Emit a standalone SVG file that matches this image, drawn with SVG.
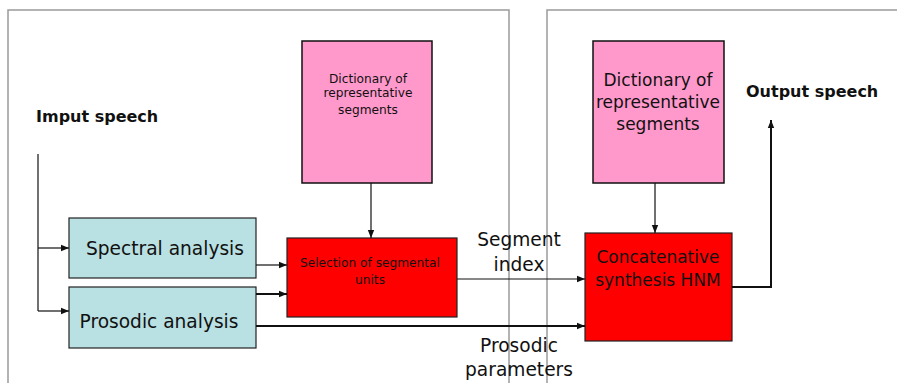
<svg xmlns="http://www.w3.org/2000/svg" width="897" height="383" viewBox="0 0 897 383">
  <style>
    .panel { fill: none; stroke: #9a9a9a; stroke-width: 1.5; }
    .cyan { fill: #b9e0e2; stroke: #222; stroke-width: 1.2; }
    .red { fill: #ff0000; stroke: #222; stroke-width: 1.2; }
    .pink { fill: #ff99cc; stroke: #111; stroke-width: 1.5; }
    text { font-family: "DejaVu Sans", Verdana, sans-serif; fill: #111; }
    .lbl { font-size: 17px; }
    .big { font-size: 18.6px; }
    .small { font-size: 12.2px; }
    .title { font-size: 16px; font-weight: bold; }
    .wire { fill: none; stroke: #111; stroke-width: 1.2; }
    .wire2 { fill: none; stroke: #111; stroke-width: 2; }
  </style>
  <defs>
    <marker id="arr" viewBox="0 0 10 10" refX="10" refY="5" markerWidth="8" markerHeight="8" markerUnits="userSpaceOnUse" orient="auto">
      <path d="M0,1 L10,5 L0,9 z" fill="#111"/>
    </marker>
  </defs>

  <rect width="897" height="383" fill="#fff"/>

  <!-- panels -->
  <g id="panels">
    <rect class="panel" x="8" y="10" width="501" height="390"/>
    <rect class="panel" x="547" y="10" width="370" height="390"/>
  </g>

  <g id="input-label"><text class="title" x="36" y="122">Imput speech</text></g>
  <g id="output-label"><text class="title" x="746" y="97">Output speech</text></g>

  <g id="spectral">
    <rect class="cyan" x="69" y="218" width="187" height="60"/>
    <text class="big" x="165" y="255" text-anchor="middle">Spectral analysis</text>
  </g>
  <g id="prosodic">
    <rect class="cyan" x="69" y="287" width="187" height="61"/>
    <text class="big" x="159" y="328" text-anchor="middle">Prosodic analysis</text>
  </g>

  <g id="dict1">
    <rect class="pink" x="302" y="41" width="130" height="142"/>
    <text class="small" x="368" y="83" text-anchor="middle">Dictionary of</text>
    <text class="small" x="368" y="97" text-anchor="middle">representative</text>
    <text class="small" x="368" y="114" text-anchor="middle">segments</text>
  </g>

  <g id="selection">
    <rect class="red" x="287" y="238" width="170" height="79"/>
    <text class="small" x="370" y="267" text-anchor="middle">Selection of segmental</text>
    <text class="small" x="370" y="284" text-anchor="middle">units</text>
  </g>

  <g id="dict2">
    <rect class="pink" x="593" y="41" width="131" height="142"/>
    <text class="lbl" x="658" y="86" text-anchor="middle">Dictionary of</text>
    <text class="lbl" x="658" y="108" text-anchor="middle">representative</text>
    <text class="lbl" x="658" y="130" text-anchor="middle">segments</text>
  </g>

  <g id="concat">
    <rect class="red" x="585" y="233" width="147" height="108"/>
    <text class="lbl" x="658" y="263" text-anchor="middle">Concatenative</text>
    <text class="lbl" x="658" y="286" text-anchor="middle">synthesis HNM</text>
  </g>

  <g id="edge-labels">
    <text class="big" x="519" y="246" text-anchor="middle">Segment</text>
    <text class="big" x="519" y="271" text-anchor="middle">index</text>
    <text class="big" x="519" y="352" text-anchor="middle">Prosodic</text>
    <text class="big" x="519" y="376" text-anchor="middle">parameters</text>
  </g>

  <!-- connectors -->
  <g id="connectors">
    <path class="wire" d="M38,154 V311"/>
    <path class="wire" d="M38,248 H69" marker-end="url(#arr)"/>
    <path class="wire" d="M38,311 H69" marker-end="url(#arr)"/>
    <path class="wire" d="M256,265 H287" marker-end="url(#arr)"/>
    <path class="wire2" d="M256,294 H287" marker-end="url(#arr)"/>
    <path class="wire" d="M371,183 V238" marker-end="url(#arr)"/>
    <path class="wire" d="M457,279 H585" marker-end="url(#arr)"/>
    <path class="wire2" d="M256,326 H585" marker-end="url(#arr)"/>
    <path class="wire" d="M655,183 V233" marker-end="url(#arr)"/>
    <path class="wire2" d="M732,287 H771 V120" marker-end="url(#arr)"/>
  </g>
</svg>
